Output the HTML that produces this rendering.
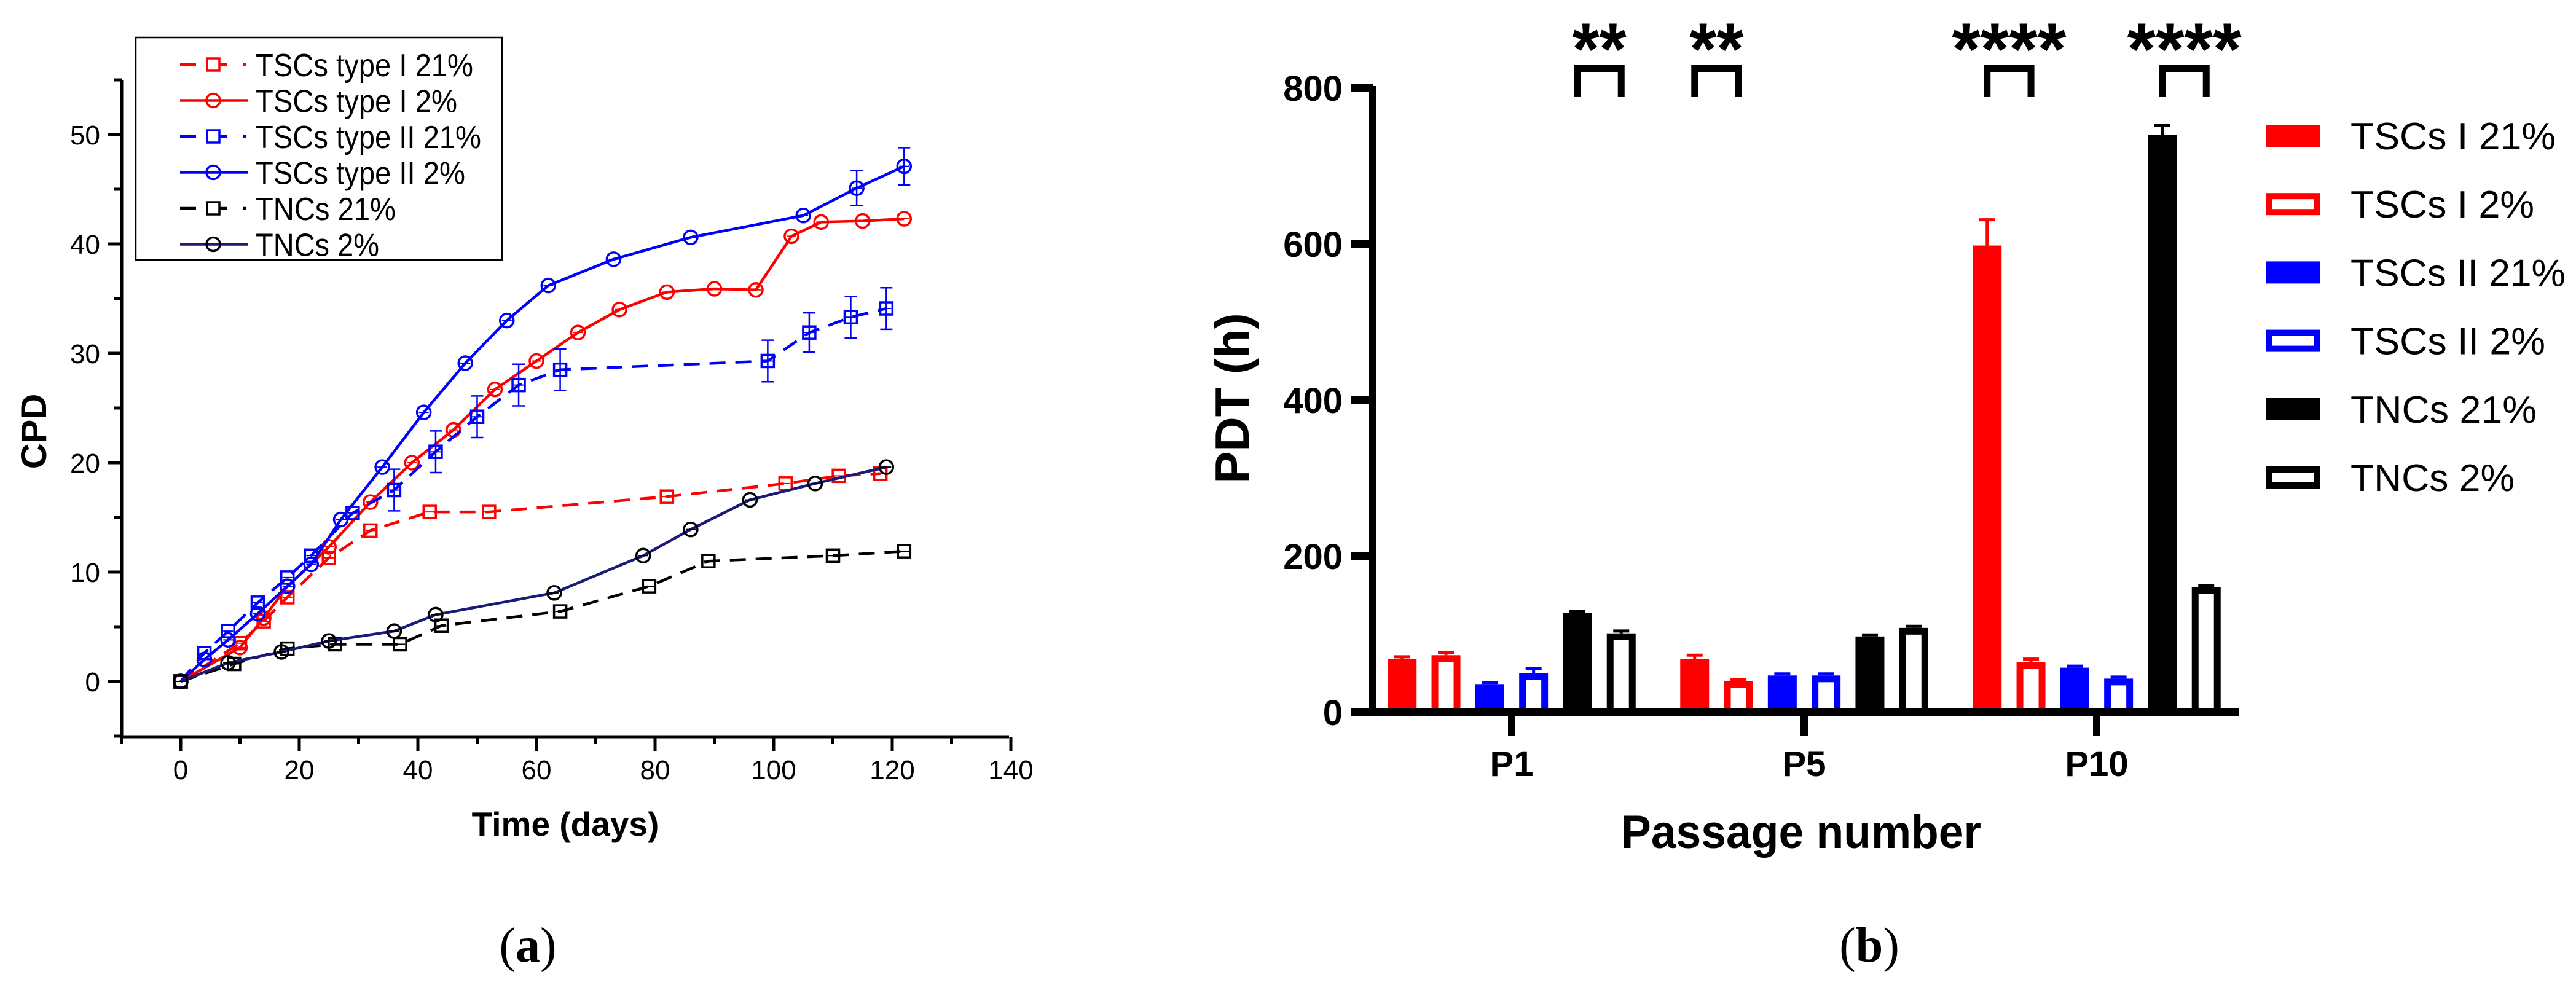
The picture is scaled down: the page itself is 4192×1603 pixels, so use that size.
<!DOCTYPE html>
<html><head><meta charset="utf-8">
<style>html,body{margin:0;padding:0;background:#fff;}svg{display:block;}</style>
</head><body>
<svg id="fig" xmlns="http://www.w3.org/2000/svg" width="4192" height="1603" viewBox="0 0 4192 1603" font-family="'Liberation Sans', sans-serif">
<rect x="0" y="0" width="4192" height="1603" fill="#fff"/>
<g id="left"></g>
<g id="right"></g>
<text x="859" y="1565" text-anchor="middle" font-family="'Liberation Serif', serif" font-size="80">(<tspan font-weight="bold">a</tspan>)</text>
<text x="3042" y="1565" text-anchor="middle" font-family="'Liberation Serif', serif" font-size="80">(<tspan font-weight="bold">b</tspan>)</text>
</svg>
<script>
// ---------- Panel (a) data ----------
const xTicks = [0, 20, 40, 60, 80, 100, 120, 140];
const yTicks = [0, 10, 20, 30, 40, 50];
const seriesNames = ["TSCs type I 21%", "TSCs type I 2%", "TSCs type II 21%", "TSCs type II 2%", "TNCs 21%", "TNCs 2%"];
const tsc1_21_days = [0, 10, 14, 18, 25, 32, 42, 52, 82, 102, 111, 118];
const tsc1_21_vals = [0, 3.5, 5.5, 7.7, 11.3, 13.8, 15.5, 15.5, 16.9, 18.1, 18.8, 19.0];
const tsc1_2_days = [0, 10, 14, 18, 25, 32, 39, 46, 53, 60, 67, 74, 82, 90, 97, 103, 108, 115, 122];
const tsc1_2_vals = [0, 3.1, 5.8, 8.7, 12.3, 16.4, 20.0, 23.0, 26.7, 29.3, 31.9, 34.0, 35.6, 35.9, 35.8, 40.7, 42.0, 42.1, 42.3];
const tsc2_21_days = [0, 4, 8, 13, 18, 22, 29, 36, 43, 50, 57, 64, 99, 106, 113, 119];
const tsc2_21_vals = [0, 2.6, 4.6, 7.2, 9.5, 11.5, 15.4, 17.5, 21.0, 24.2, 27.1, 28.5, 29.3, 31.9, 33.3, 34.1];
const tsc2_21_err  = [0, 0.2, 0.2, 0.3, 0.3, 0.3, 0.3, 1.9, 1.9, 1.9, 1.9, 1.9, 1.9, 1.8, 1.9, 1.9];
const tsc2_2_days = [0, 4, 8, 13, 18, 22, 27, 34, 41, 48, 55, 62, 73, 86, 105, 114, 122];
const tsc2_2_vals = [0, 2.0, 3.8, 6.2, 8.7, 10.7, 14.8, 19.6, 24.6, 29.1, 33.0, 36.2, 38.6, 40.6, 42.6, 45.1, 47.1];
const tsc2_2_err  = [0, 0.2, 0.2, 0.2, 0.2, 0.2, 0.2, 0.3, 0.3, 0.3, 0.3, 0.3, 0.3, 0.3, 0.3, 1.6, 1.7];
const tnc21_days = [0, 9, 18, 26, 37, 44, 64, 79, 89, 110, 122];
const tnc21_vals = [0, 1.6, 3.0, 3.4, 3.4, 5.1, 6.4, 8.7, 11.0, 11.5, 11.9];
const tnc2_days = [0, 8, 17, 25, 36, 43, 63, 78, 86, 96, 107, 119];
const tnc2_vals = [0, 1.7, 2.7, 3.7, 4.6, 6.1, 8.1, 11.5, 13.9, 16.6, 18.1, 19.6];

// ---------- Panel (b) data ----------
const passages = ["P1", "P5", "P10"];
const barGroups = ["TSCs I 21%", "TSCs I 2%", "TSCs II 21%", "TSCs II 2%", "TNCs 21%", "TNCs 2%"];
const pdtTSC1_21 = [68, 68, 598];
const pdtTSC1_2  = [73, 40, 64];
const pdtTSC2_21 = [36, 47, 57];
const pdtTSC2_2  = [50, 47, 43];
const pdtTNC_21  = [127, 97, 740];
const pdtTNC_2   = [101, 108, 160];
const errTSC1_21 = [3, 5, 33];
const errTSC1_2  = [3, 2, 4];
const errTSC2_21 = [2, 2, 2];
const errTSC2_2  = [6, 2, 2];
const errTNC_21  = [2, 2, 12];
const errTNC_2   = [3, 2, 2];
const pdtTicks = [0, 200, 400, 600, 800];
const sigStars = ["**", "**", "****", "****"];
const sigPassage = [0, 1, 2, 2];
const sigBarA = [4, 0, 0, 4];
const sigBarB = [5, 1, 1, 5];

const NS = "http://www.w3.org/2000/svg";
function mk(parent, tag, attrs, text) {
  const e = document.createElementNS(NS, tag);
  for (const k in attrs) e.setAttribute(k, attrs[k]);
  if (text !== undefined) e.textContent = text;
  parent.appendChild(e);
  return e;
}

// ================= Panel (a) =================
const L = document.getElementById('left');
const X = d => 294 + d * 9.65;
const Y = v => 1109 - v * 17.8;

// axes
let ax = mk(L, 'path', {d: `M198 ${Y(55)} V1199 H1642`, stroke: '#000', 'stroke-width': 5, fill: 'none'});


for (let v = -5; v <= 55; v += 5) {
  const major = v % 10 === 0;
  let t = mk(L, 'line', {x1: major ? 176 : 186, x2: 198, y1: Y(v), y2: Y(v), stroke: '#000', 'stroke-width': 5});
  
  
}
yTicks.forEach(v => {
  let t = mk(L, 'text', {x: 163, y: Y(v) + 16, 'text-anchor': 'end', 'font-size': 44}, String(v));
  
  
});
for (let d = -10; d <= 140; d += 10) {
  const major = d % 20 === 0;
  let t = mk(L, 'line', {x1: X(d), x2: X(d), y1: 1199, y2: major ? 1222 : 1211, stroke: '#000', 'stroke-width': 5});
  
  
}
xTicks.forEach(d => {
  let t = mk(L, 'text', {x: X(d), y: 1268, 'text-anchor': 'middle', 'font-size': 44}, String(d));
  
  
});
let yt = mk(L, 'text', {x: 0, y: 0, transform: 'translate(75,702) rotate(-90)', 'text-anchor': 'middle', 'font-size': 58, 'font-weight': 'bold'}, 'CPD');


let xt = mk(L, 'text', {x: 920, y: 1360, 'text-anchor': 'middle', 'font-size': 55, 'font-weight': 'bold'}, 'Time (days)');



const NAVY = '#1a1a78';
const series = [
  {days: tsc1_21_days, vals: tsc1_21_vals, err: null, color: '#f00', dash: true, marker: 'sq', name: 'series-tscs-i-21'},
  {days: tsc1_2_days, vals: tsc1_2_vals, err: null, color: '#f00', dash: false, marker: 'ci', name: 'series-tscs-i-2'},
  {days: tsc2_21_days, vals: tsc2_21_vals, err: tsc2_21_err, color: '#00f', dash: true, marker: 'sq', name: 'series-tscs-ii-21'},
  {days: tsc2_2_days, vals: tsc2_2_vals, err: tsc2_2_err, color: '#00f', dash: false, marker: 'ci', name: 'series-tscs-ii-2'},
  {days: tnc21_days, vals: tnc21_vals, err: null, color: '#000', dash: true, marker: 'sq', name: 'series-tncs-21'},
  {days: tnc2_days, vals: tnc2_vals, err: null, color: NAVY, dash: false, marker: 'ci', name: 'series-tncs-2'}
];
function marker(g, type, x, y, color, mcol) {
  let m;
  if (type === 'sq') m = mk(g, 'rect', {x: x - 10, y: y - 10, width: 20, height: 20, fill: '#fff', 'fill-opacity': 0, stroke: color, 'stroke-width': 3.5});
  else m = mk(g, 'circle', {cx: x, cy: y, r: 11, fill: 'none', stroke: mcol || color, 'stroke-width': 3.5});
  return m;
}
series.forEach(s => {
  const g = mk(L, 'g', {});
  
  
  const pts = s.days.map((d, i) => X(d) + ',' + Y(s.vals[i])).join(' ');
  let pl = mk(g, 'polyline', {points: pts, fill: 'none', stroke: s.color, 'stroke-width': 4.5, 'stroke-dasharray': s.dash ? '26 16' : 'none'});
  
  
  s.days.forEach((d, i) => {
    const x = X(d), y = Y(s.vals[i]);
    if (s.err && s.err[i] > 0.5) {
      let e = mk(g, 'path', {d: `M${x} ${Y(s.vals[i] + s.err[i])} V${Y(s.vals[i] - s.err[i])} M${x - 10} ${Y(s.vals[i] + s.err[i])} h20 M${x - 10} ${Y(s.vals[i] - s.err[i])} h20`, stroke: s.color, 'stroke-width': 2.5, fill: 'none'});
      
      
    }
    let h = mk(g, 'line', {x1: x - 8, x2: x + 8, y1: y, y2: y, stroke: s.color === NAVY ? '#000' : s.color, 'stroke-width': 2});
    
    
    let m = marker(g, s.marker, x, y, s.color, s.color === NAVY ? '#000' : null);
    
    
  });
});

// legend (a)
const lg = mk(L, 'g', {});


mk(lg, 'rect', {x: 221, y: 61, width: 596, height: 362, fill: 'none', stroke: '#000', 'stroke-width': 2.5});
const legW = [354, 328, 367, 341, 228, 201];
series.forEach((s, i) => {
  const y = 105 + i * 58.5;
  const e = mk(lg, 'g', {});
  
  
  if (s.dash) {
    mk(e, 'path', {d: `M293 ${y} H319 M357 ${y} H370 M395 ${y} H401`, stroke: s.color, 'stroke-width': 4.5});
  } else {
    mk(e, 'line', {x1: 293, x2: 404, y1: y, y2: y, stroke: s.color, 'stroke-width': 4.5});
  }
  marker(e, s.marker, 347, y, s.color, s.color === NAVY ? '#000' : null);
  mk(e, 'text', {x: 416, y: y + 19, 'font-size': 52, textLength: legW[i], lengthAdjust: 'spacingAndGlyphs'}, seriesNames[i]);
});

// ================= Panel (b) =================
const R = document.getElementById('right');
const BY = v => 1159 - v * 1.27;
const groupX = [2460, 2936, 3412];
const pitch = 71.3, bw = 47;
const barData = [pdtTSC1_21, pdtTSC1_2, pdtTSC2_21, pdtTSC2_2, pdtTNC_21, pdtTNC_2];
const barErr = [errTSC1_21, errTSC1_2, errTSC2_21, errTSC2_2, errTNC_21, errTNC_2];
const barColors = ['#f00', '#f00', '#00f', '#00f', '#000', '#000'];
const barOpen = [false, true, false, true, false, true];
const barCenter = (p, k) => groupX[p] + (k - 2.5) * pitch;

barData.forEach((arr, k) => {
  arr.forEach((v, p) => {
    const cx = barCenter(p, k), top = BY(v);
    const c = barColors[k];
    const ev = BY(v + barErr[k][p]);
    let eb = mk(R, 'path', {d: `M${cx} ${top} V${ev} M${cx - 13} ${ev} h26`, stroke: c, 'stroke-width': 5, fill: 'none'});
    
    
    let r;
    if (barOpen[k]) r = mk(R, 'rect', {x: cx - bw / 2 + 5.5, y: top + 5.5, width: bw - 11, height: Math.max(0, 1159 - top - 5.5), fill: '#fff', stroke: c, 'stroke-width': 11});
    else r = mk(R, 'rect', {x: cx - bw / 2, y: top, width: bw, height: 1159 - top, fill: c});
    
    
  });
});

let bax = mk(R, 'path', {d: 'M2234 140 V1165 M2198 1159 H3644', stroke: '#000', 'stroke-width': 12, fill: 'none'});


pdtTicks.forEach(v => {
  let t = mk(R, 'line', {x1: 2198, x2: 2234, y1: BY(v), y2: BY(v), stroke: '#000', 'stroke-width': 12});
  
  
  let l = mk(R, 'text', {x: 2185, y: BY(v) + 21, 'text-anchor': 'end', 'font-size': 58, 'font-weight': 'bold'}, String(v));
  
  
});
passages.forEach((p, i) => {
  let t = mk(R, 'line', {x1: groupX[i], x2: groupX[i], y1: 1159, y2: 1198, stroke: '#000', 'stroke-width': 12});
  
  
  let l = mk(R, 'text', {x: groupX[i], y: 1263, 'text-anchor': 'middle', 'font-size': 58, 'font-weight': 'bold'}, p);
  
  
});
let pyt = mk(R, 'text', {x: 0, y: 0, transform: 'translate(2032,648) rotate(-90)', 'text-anchor': 'middle', 'font-size': 78, 'font-weight': 'bold'}, 'PDT (h)');


let pxt = mk(R, 'text', {x: 2931, y: 1380, 'text-anchor': 'middle', 'font-size': 76, 'font-weight': 'bold', textLength: 586, lengthAdjust: 'spacingAndGlyphs'}, 'Passage number');



sigStars.forEach((s, i) => {
  const a = barCenter(sigPassage[i], sigBarA[i]), b = barCenter(sigPassage[i], sigBarB[i]);
  let br = mk(R, 'path', {d: `M${a} 158 V111.5 H${b} V158`, stroke: '#000', 'stroke-width': 11, fill: 'none'});
  
  
  let st = mk(R, 'text', {x: (a + b) / 2, y: 121, 'text-anchor': 'middle', 'font-size': 120, 'font-weight': 'bold', textLength: s.length === 2 ? 88 : 186, lengthAdjust: 'spacingAndGlyphs'}, s);
  
  
});

// legend (b)
const rl = mk(R, 'g', {});


const rlW = [334, 299, 350, 317, 303, 267];
barGroups.forEach((name, k) => {
  const y = 221 + k * 111.2;
  const e = mk(rl, 'g', {});
  
  
  if (barOpen[k]) mk(e, 'rect', {x: 3693, y: y - 13, width: 78, height: 26, fill: '#fff', stroke: barColors[k], 'stroke-width': 10});
  else mk(e, 'rect', {x: 3688, y: y - 18, width: 88, height: 36, fill: barColors[k]});
  mk(e, 'text', {x: 3825, y: y + 22, 'font-size': 62, textLength: rlW[k], lengthAdjust: 'spacingAndGlyphs'}, name);
});
</script>
</body></html>
